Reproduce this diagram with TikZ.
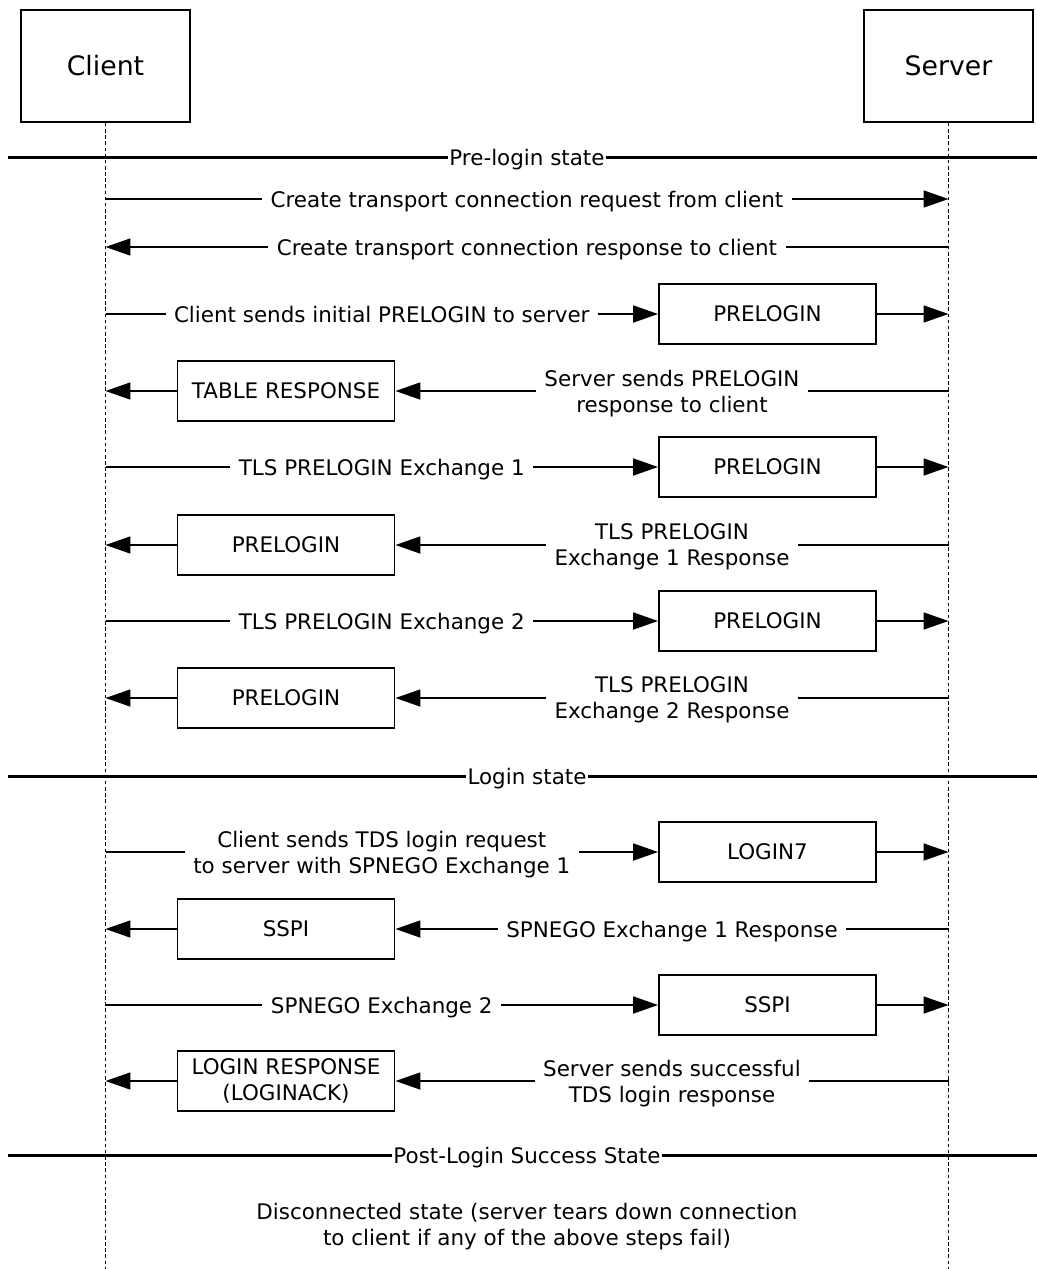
\documentclass[tikz,border=0pt]{standalone}
\usepackage{fontspec}
\setmainfont{DejaVu Sans}
\usetikzlibrary{arrows.meta}

\begin{document}
\begin{tikzpicture}[x=0.02cm, y=-0.02cm,
    font=\fontsize{12.2}{14.8}\selectfont,
    actor/.style={draw, line width=1.1pt, minimum width=3.38cm, minimum height=2.24cm, font=\fontsize{15.2}{18}\selectfont},
    msgbox/.style={draw, line width=1.1pt, fill=white, align=center, minimum width=4.34cm, minimum height=1.2cm},
    msg/.style={line width=1pt, -{Triangle[length=0.5cm, width=0.34cm]}},
    lbl/.style={fill=white, align=center, text depth=0pt, inner xsep=0.17cm, inner ysep=1pt},
    lifeline/.style={line width=0.6pt, dash pattern=on 2pt off 1.5pt},
    state/.style={line width=1.7pt},
    statelbl/.style={fill=white, text depth=0pt, inner xsep=1pt, inner ysep=1pt}]
    \useasboundingbox (0,0) rectangle (1037,1269);

    % participants
    \node[actor] (client) at (105.5,66) {Client};
    \node[actor] (server) at (948.5,66) {Server};
    \coordinate (client end) at (105.5,1269);
    \coordinate (server end) at (948.5,1269);
    \draw[lifeline] (client.south) -- (client end);
    \draw[lifeline] (server.south) -- (server end);

    % points on the lifelines
    \coordinate (c1) at (105.5,199);   \coordinate (s1) at (948.5,199);
    \coordinate (c2) at (105.5,247);   \coordinate (s2) at (948.5,247);
    \coordinate (c3) at (105.5,314);   \coordinate (s3) at (948.5,314);
    \coordinate (c4) at (105.5,391);   \coordinate (s4) at (948.5,391);
    \coordinate (c5) at (105.5,467);   \coordinate (s5) at (948.5,467);
    \coordinate (c6) at (105.5,545);   \coordinate (s6) at (948.5,545);
    \coordinate (c7) at (105.5,621);   \coordinate (s7) at (948.5,621);
    \coordinate (c8) at (105.5,698);   \coordinate (s8) at (948.5,698);
    \coordinate (c9) at (105.5,852);   \coordinate (s9) at (948.5,852);
    \coordinate (c10) at (105.5,929);  \coordinate (s10) at (948.5,929);
    \coordinate (c11) at (105.5,1005); \coordinate (s11) at (948.5,1005);
    \coordinate (c12) at (105.5,1081); \coordinate (s12) at (948.5,1081);

    % pre-login state
    \coordinate (pre w) at (8,157);
    \coordinate (pre e) at (1037,157);
    \draw[state] (pre w) -- (pre e);
    \node[statelbl] (pre) at (527,157) {Pre-login state};

    \draw[msg] (c1) -- node[lbl] {Create transport connection request from client} (s1);
    \draw[msg] (s2) -- node[lbl] {Create transport connection response to client} (c2);

    \node[msgbox] (prelogin1) at (767.5,314) {PRELOGIN};
    \draw[msg] (c3) -- node[lbl] {Client sends initial PRELOGIN to server} (prelogin1);
    \draw[msg] (prelogin1) -- (s3);

    \node[msgbox] (table) at (286,391) {TABLE RESPONSE};
    \draw[msg] (s4) -- node[lbl] {Server sends PRELOGIN\\response to client} (table);
    \draw[msg] (table) -- (c4);

    \node[msgbox] (prelogin2) at (767.5,467) {PRELOGIN};
    \draw[msg] (c5) -- node[lbl] {TLS PRELOGIN Exchange 1} (prelogin2);
    \draw[msg] (prelogin2) -- (s5);

    \node[msgbox] (prelogin3) at (286,545) {PRELOGIN};
    \draw[msg] (s6) -- node[lbl] {TLS PRELOGIN\\Exchange 1 Response} (prelogin3);
    \draw[msg] (prelogin3) -- (c6);

    \node[msgbox] (prelogin4) at (767.5,621) {PRELOGIN};
    \draw[msg] (c7) -- node[lbl] {TLS PRELOGIN Exchange 2} (prelogin4);
    \draw[msg] (prelogin4) -- (s7);

    \node[msgbox] (prelogin5) at (286,698) {PRELOGIN};
    \draw[msg] (s8) -- node[lbl] {TLS PRELOGIN\\Exchange 2 Response} (prelogin5);
    \draw[msg] (prelogin5) -- (c8);

    % login state
    \coordinate (login w) at (8,776);
    \coordinate (login e) at (1037,776);
    \draw[state] (login w) -- (login e);
    \node[statelbl] (login) at (527,776) {Login state};

    \node[msgbox] (login7) at (767.5,852) {LOGIN7};
    \draw[msg] (c9) -- node[lbl] {Client sends TDS login request\\to server with SPNEGO Exchange 1} (login7);
    \draw[msg] (login7) -- (s9);

    \node[msgbox] (sspi1) at (286,929) {SSPI};
    \draw[msg] (s10) -- node[lbl] {SPNEGO Exchange 1 Response} (sspi1);
    \draw[msg] (sspi1) -- (c10);

    \node[msgbox] (sspi2) at (767.5,1005) {SSPI};
    \draw[msg] (c11) -- node[lbl] {SPNEGO Exchange 2} (sspi2);
    \draw[msg] (sspi2) -- (s11);

    \node[msgbox] (loginack) at (286,1081) {LOGIN RESPONSE\\(LOGINACK)};
    \draw[msg] (s12) -- node[lbl] {Server sends successful\\TDS login response} (loginack);
    \draw[msg] (loginack) -- (c12);

    % post-login state
    \coordinate (post w) at (8,1155);
    \coordinate (post e) at (1037,1155);
    \draw[state] (post w) -- (post e);
    \node[statelbl] (post) at (527,1155) {Post-Login Success State};

    \node[align=center] (disconnected) at (527,1226.5) {Disconnected state (server tears down connection\\to client if any of the above steps fail)};
\end{tikzpicture}
\end{document}
